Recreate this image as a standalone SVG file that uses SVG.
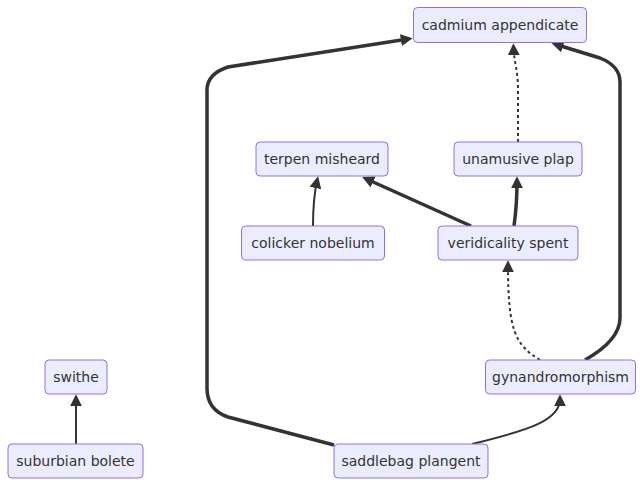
<svg xmlns="http://www.w3.org/2000/svg" width="644" height="486" viewBox="0 0 644 486">
<style>
.node rect{fill:#ECECFF;stroke:#9370DB;stroke-width:1px}
.node text{font-family:"DejaVu Sans",Verdana,sans-serif;font-size:14px;fill:#333;text-anchor:middle;dominant-baseline:central}
.edge{fill:none;stroke:#333;stroke-width:2px}
.thick{stroke-width:3.5px}
.dotted{stroke-dasharray:3 3}
</style>
<defs>
<marker id="arrow" viewBox="0 0 10 10" refX="6" refY="5" markerUnits="userSpaceOnUse" markerWidth="12" markerHeight="12" orient="auto">
<path d="M0,0 L10,5 L0,10 z" fill="#333"/>
</marker>
</defs>
<rect width="644" height="486" fill="#fff"/>
<g id="edges">
<path class="edge thick" marker-end="url(#arrow)" d="M334,445 L228,417 Q207,410 207,388 L207,90 Q207,74 228,67 L408,39"/>
<path class="edge" marker-end="url(#arrow)" d="M472,444 C530,430 560,420 560,399"/>
<path class="edge dotted" marker-end="url(#arrow)" d="M540,360 C515,345 508,330 508,265"/>
<path class="edge thick" marker-end="url(#arrow)" d="M585,360 Q620,340 620,318 L620,82 Q620,66 600,58 L556,44.5"/>
<path class="edge thick" marker-end="url(#arrow)" d="M514,226 C517,205 517,195 517,181"/>
<path class="edge thick" marker-end="url(#arrow)" d="M471,226 L366.5,179"/>
<path class="edge" marker-end="url(#arrow)" d="M313,226 C313,200 315,190 317,181"/>
<path class="edge dotted" marker-end="url(#arrow)" d="M518,142 L518,90 C518,70 514,62 513.5,48"/>
<path class="edge" marker-end="url(#arrow)" d="M76,444 L76,399"/>
</g>
<g id="cadmium" class="node"><rect x="413.5" y="7.5" width="173" height="35" rx="4"/><text x="500" y="25">cadmium appendicate</text></g>
<g id="terpen" class="node"><rect x="256" y="142" width="132" height="34" rx="4"/><text x="322" y="159">terpen misheard</text></g>
<g id="unamusive" class="node"><rect x="454" y="142" width="128" height="34" rx="4"/><text x="518" y="159">unamusive plap</text></g>
<g id="colicker" class="node"><rect x="241.5" y="226" width="143" height="34" rx="4"/><text x="313" y="243">colicker nobelium</text></g>
<g id="veridicality" class="node"><rect x="438" y="226" width="140" height="34" rx="4"/><text x="508" y="243">veridicality spent</text></g>
<g id="swithe" class="node"><rect x="45" y="360" width="62" height="34" rx="4"/><text x="76" y="377">swithe</text></g>
<g id="gynandromorphism" class="node"><rect x="485.5" y="360" width="150" height="34" rx="4"/><text x="560.5" y="377">gynandromorphism</text></g>
<g id="suburbian" class="node"><rect x="8" y="444" width="135" height="34" rx="4"/><text x="75.5" y="461">suburbian bolete</text></g>
<g id="saddlebag" class="node"><rect x="334" y="444" width="154" height="34" rx="4"/><text x="411" y="461">saddlebag plangent</text></g>
</svg>
